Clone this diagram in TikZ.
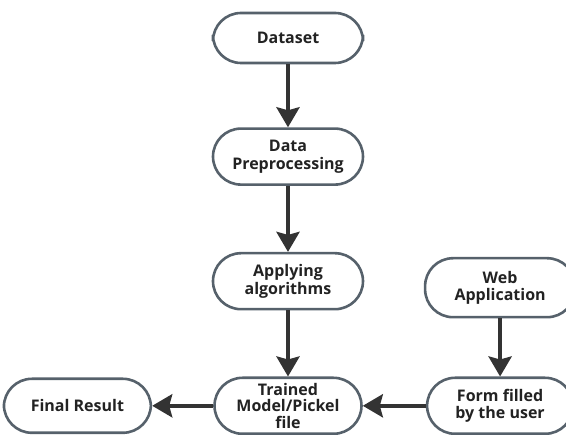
\documentclass[tikz,border=0pt]{standalone}
\usepackage{fontspec}
\setmainfont{Open Sans}
\usetikzlibrary{positioning,calc,arrows.meta}

\definecolor{boxline}{HTML}{56616B}
\definecolor{arrowcol}{HTML}{333333}
\definecolor{textcol}{HTML}{222222}

\begin{document}
\begin{tikzpicture}[
    stepbox/.style={rectangle, rounded corners=28pt, draw=boxline, line width=2.6pt, fill=white,
                    minimum width=150pt, minimum height=56pt, inner sep=1pt,
                    align=center, text=textcol, font=\bfseries\fontsize{16}{17.5}\selectfont},
    flow/.style={-{Stealth[length=20pt, width=23pt, inset=3pt]}, draw=arrowcol, fill=arrowcol, line width=4pt}
]

% --- Page frame (Dataset sits at the origin) ---
\useasboundingbox (-288pt,38pt) rectangle ++(566pt,-435pt);

% --- Main column ---
\node[stepbox, minimum height=50pt] (dataset) {Dataset};
\node[stepbox, below=63pt of dataset] (prep) {Data\\Preprocessing};
\node[stepbox, below=66pt of prep] (apply) {Applying\\algorithms};
\node[stepbox, below=66pt of apply, minimum width=147pt, font=\bfseries\fontsize{16}{16.5}\selectfont] (trained) {Trained\\Model/Pickel\\file};

% --- Bottom row and web branch ---
\node[stepbox, left=61pt of trained, minimum width=147pt, minimum height=54pt] (final) {Final Result};
\node[stepbox, right=63pt of trained, minimum width=146pt] (form) {Form filled\\by the user};
\node[stepbox, above=58pt of form, minimum height=59pt] (web) {Web\\Application};

% --- Connectors ---
\draw[flow] (dataset) -- (prep);
\draw[flow] (prep) -- (apply);
\draw[flow] (apply) -- (trained);
\draw[flow] (web) -- (form);
\draw[flow] (form) -- (trained);
\draw[flow] (trained) -- (final);

\end{tikzpicture}
\end{document}
